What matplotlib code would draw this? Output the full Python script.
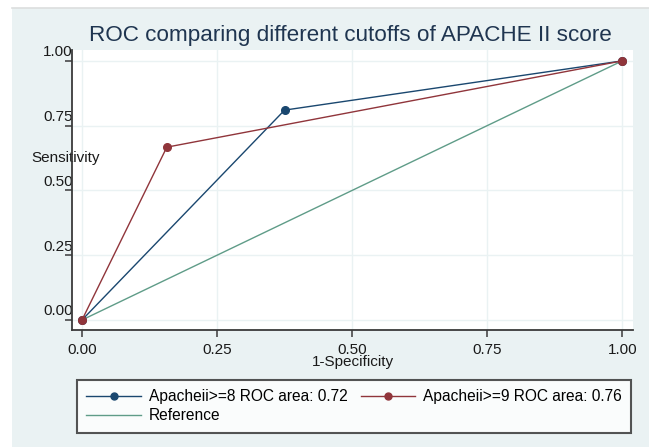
import numpy as np
import matplotlib
matplotlib.use("Agg")
import matplotlib.pyplot as plt
from matplotlib.patches import Rectangle
from matplotlib.lines import Line2D
from matplotlib.transforms import ScaledTranslation

plt.rcParams['font.family'] = ['Liberation Sans', 'DejaVu Sans']

# ROC points (1-specificity, sensitivity) for each cutoff
fpr_8 = [0.0, 0.375, 1.0]
tpr_8 = [0.0, 0.81, 1.0]
fpr_9 = [0.0, 0.157, 1.0]
tpr_9 = [0.0, 0.667, 1.0]
ref_x = [0.0, 1.0]
ref_y = [0.0, 1.0]
auc_8 = 0.72
auc_9 = 0.76
ticks = [0.0, 0.25, 0.5, 0.75, 1.0]
tick_labels = ['0.00', '0.25', '0.50', '0.75', '1.00']

navy = '#1a476f'
maroon = '#90353b'
green = '#5f9c88'
bg = '#eaf2f3'

fig = plt.figure(figsize=(6.49, 4.47), dpi=100, facecolor='white')
# stata-style graph region
fig.patches.append(Rectangle((12/649, 0), 1, 1 - 8/447, transform=fig.transFigure,
                             facecolor=bg, edgecolor='none', zorder=-10))
fig.lines.append(Line2D([12/649, 1], [1 - 7.5/447]*2, transform=fig.transFigure,
                        color='#dcdede', lw=1.2, zorder=-9))

ax = fig.add_axes([72/649, 117/447, 561/649, 280/447])
ax.set_facecolor('white')

l8, = ax.plot(fpr_8, tpr_8, color=navy, lw=1.0, marker='o', ms=5.5,
              label='Apacheii>=8 ROC area: %.2f' % auc_8, zorder=3)
l9, = ax.plot(fpr_9, tpr_9, color=maroon, lw=1.0, marker='o', ms=5.5,
              label='Apacheii>=9 ROC area: %.2f' % auc_9, zorder=4)
lr, = ax.plot(ref_x, ref_y, color=green, lw=1.0, label='Reference', zorder=2)

ax.set_xlim(-0.0185, 1.02)
ax.set_ylim(-0.0386, 1.042)
ax.set_xticks(ticks)
ax.set_xticklabels(tick_labels)
ax.set_yticks(ticks)
ax.set_yticklabels(tick_labels)
ax.grid(True, color=bg, lw=1.0)
ax.set_axisbelow(True)

for s in ['top', 'right']:
    ax.spines[s].set_visible(False)
for s in ['left', 'bottom']:
    ax.spines[s].set_color('#3a3a3a')
    ax.spines[s].set_linewidth(1.3)

ax.tick_params(axis='both', direction='out', length=5, width=1.1, color='#3a3a3a',
               labelsize=11, labelcolor='#1a1a1a')
ax.tick_params(axis='x', pad=4)
ax.tick_params(axis='y', pad=-5.5)
# y labels sit just above their ticks
up = ScaledTranslation(0, 10/100, fig.dpi_scale_trans)
for lab in ax.get_yticklabels():
    lab.set_transform(lab.get_transform() + up)

ax.set_xlabel('1-Specificity', fontsize=11, color='#1a1a1a', labelpad=-1)
ax.set_ylabel('Sensitivity', fontsize=11, color='#1a1a1a', rotation=0,
              ha='center', va='center')
ax.yaxis.set_label_coords(-0.0107, 0.614)

fig.text(350/649, 1 - 35/447, 'ROC comparing different cutoffs of APACHE II score',
         ha='center', va='center', fontsize=16.2, color='#1f3550')

# columns fill top to bottom, so order gives row 1: >=8, >=9; row 2: reference
leg = ax.legend([l8, lr, l9], [l8.get_label(), lr.get_label(), l9.get_label()],
                loc='upper left', bbox_to_anchor=(77/649, 0, 554/649, 1 - 380/447),
                bbox_transform=fig.transFigure, mode='expand', ncol=2, fontsize=11.2,
                frameon=True, fancybox=False, edgecolor='#2a2a2a', handlelength=3.5,
                handletextpad=0.5, borderpad=0.6, labelspacing=0.25,
                columnspacing=0.6, borderaxespad=0)
leg.get_frame().set_linewidth(1.5)
for h in leg.legend_handles:
    h.set_markersize(5)

fig.savefig('out.png', dpi=100)
